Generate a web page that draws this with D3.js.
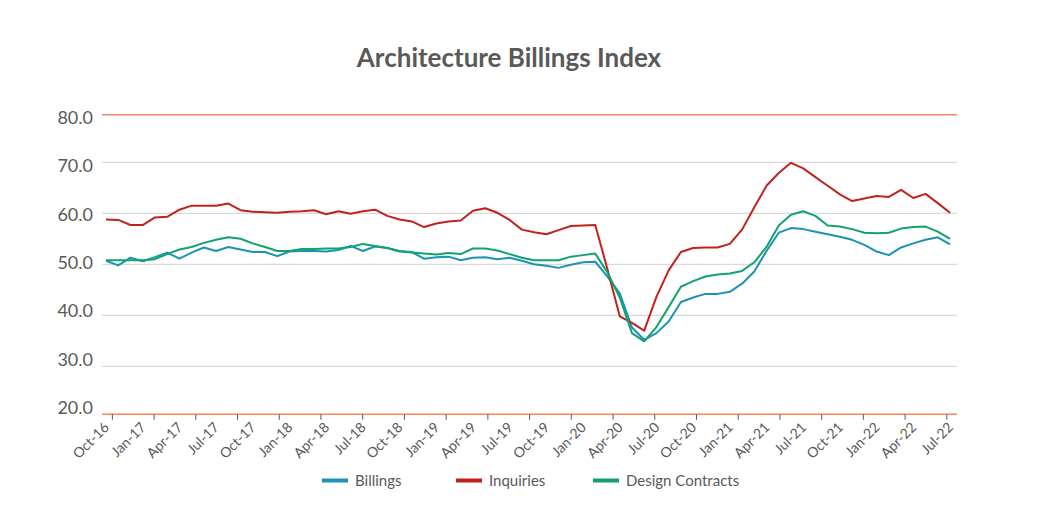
<!DOCTYPE html>
<html>
<head>
<meta charset="utf-8">
<script src="https://cdn.jsdelivr.net/npm/d3@7/dist/d3.min.js"></script>
<style>
  html, body { margin: 0; padding: 0; background: #ffffff; }
  svg { display: block; font-family: Lato, "Open Sans", sans-serif; }
</style>
</head>
<body>
<svg id="chart" width="1040" height="521"></svg>
<script>
// ---- data (monthly, Oct-16 .. Jul-22) ----
const billings = [50.7,49.8,51.3,50.6,51.4,52.3,51.1,52.3,53.3,52.6,53.4,52.9,52.4,52.4,51.6,52.5,52.6,52.6,
  52.5,52.8,53.6,52.6,53.5,53.2,52.6,52.4,51.1,51.4,51.5,50.8,51.3,51.4,51.0,51.3,50.7,
  50.0,49.7,49.3,49.9,50.4,50.5,47.6,44.3,37.6,35.2,36.5,38.8,42.6,43.5,44.2,44.2,44.6,46.2,48.6,52.6,
  56.2,57.1,56.9,56.4,55.9,55.4,54.8,53.8,52.5,51.8,53.3,54.1,54.8,55.3,53.9];
const inquiries = [58.8,58.7,57.7,57.7,59.2,59.3,60.7,61.5,61.5,61.5,
  61.9,60.6,60.3,60.2,60.1,60.3,60.4,60.6,59.8,60.4,
  59.9,60.4,60.7,59.5,58.8,58.4,57.3,58.0,58.4,58.6,
  60.5,61.0,60.1,58.7,56.8,56.3,55.9,56.7,57.5,57.6,
  57.7,49.0,39.8,38.5,37.0,43.6,48.8,52.4,53.2,53.3,
  53.3,54.0,56.8,61.2,65.4,67.9,69.9,68.8,67.1,65.4,
  63.7,62.4,62.9,63.4,63.2,64.6,63.0,63.8,62.0,60.1];
const designContracts = [50.8,50.8,50.8,50.8,51.0,52.0,52.9,53.4,54.2,54.8,
  55.3,55.0,54.1,53.4,52.6,52.6,53.0,53.0,53.1,53.1,
  53.4,54.0,53.6,53.2,52.5,52.3,52.1,51.9,52.2,52.0,
  53.1,53.1,52.7,52.0,51.3,50.8,50.8,50.8,51.5,51.8,
  52.1,48.4,43.5,36.5,34.9,37.7,41.6,45.6,46.7,47.6,
  48.0,48.2,48.7,50.4,53.4,57.6,59.7,60.4,59.5,57.6,
  57.4,56.9,56.2,56.1,56.2,57.0,57.3,57.4,56.4,55.0];
const monthNames = ["Jan","Feb","Mar","Apr","May","Jun","Jul","Aug","Sep","Oct","Nov","Dec"];
const yTicks = [20, 30, 40, 50, 60, 70, 80];
const seriesNames = ["Billings", "Inquiries", "Design Contracts"];
const seriesColors = ["#1b93b6", "#c1221b", "#11a36c"];

const series = [billings, inquiries, designContracts];
const nMonths = billings.length;
const monthLabel = i => {
  const m = (9 + i) % 12;
  const yr = 16 + Math.floor((9 + i) / 12);
  return monthNames[m] + "-" + String(yr).padStart(2, "0");
};
const labelMonths = d3.range(0, nMonths, 3);

const svg = d3.select("#chart");
const textColor = "#595959";

// scales
const x = d3.scaleLinear().domain([0, nMonths - 1]).range([106, 950]);
const y = d3.scaleLinear().domain([20, 80]).range([417.3, 111.3]);
const yLab = d3.scaleLinear().domain([20, 80]).range([407.7, 117.7]);
const plotL = 102, plotR = 957;

// title
svg.append("text")
  .attr("x", 509).attr("y", 67)
  .attr("text-anchor", "middle")
  .attr("font-size", 26).attr("font-weight", 700)
  .attr("fill", textColor)
  .text("Architecture Billings Index");

// grid lines
svg.append("g").selectAll("line")
  .data(yTicks.filter(d => d > 20 && d < 80))
  .join("line")
  .attr("x1", plotL).attr("x2", plotR)
  .attr("y1", d => y(d)).attr("y2", d => y(d))
  .attr("stroke", "#d9d9d9").attr("stroke-width", 1.2);

// orange borders (top / bottom of plot)
[79.3, 20.6].forEach(v => {
  svg.append("line")
    .attr("x1", plotL).attr("x2", plotR)
    .attr("y1", y(v)).attr("y2", y(v))
    .attr("stroke", "#f7845a").attr("stroke-width", 1.5);
});

// y labels
svg.append("g").selectAll("text")
  .data(yTicks)
  .join("text")
  .attr("x", 93).attr("y", d => yLab(d))
  .attr("dy", "0.35em")
  .attr("text-anchor", "end")
  .attr("font-size", 18)
  .attr("fill", textColor)
  .text(d => d3.format(".1f")(d));

// x ticks
const tickMonths = d3.range(21).map(i => 0.52 + i * (68.74 - 0.52) / 20);
svg.append("g").selectAll("line")
  .data(tickMonths)
  .join("line")
  .attr("x1", d => x(d)).attr("x2", d => x(d))
  .attr("y1", y(20.6)).attr("y2", y(20.6) + 5.5)
  .attr("stroke", "#595959").attr("stroke-width", 1);

// x labels
svg.append("g").selectAll("text")
  .data(labelMonths)
  .join("text")
  .attr("transform", d => `translate(${x(d) + 4},${y(20.6) + 14}) rotate(-45)`)
  .attr("text-anchor", "end")
  .attr("font-size", 14)
  .attr("fill", textColor)
  .text(d => monthLabel(d));

// lines
const line = d3.line().x((d, i) => x(i)).y(d => y(d));
svg.append("g").selectAll("path")
  .data(series)
  .join("path")
  .attr("d", d => line(d))
  .attr("fill", "none")
  .attr("stroke", (d, i) => seriesColors[i])
  .attr("stroke-width", 2)
  .attr("stroke-linejoin", "round");

// legend
const legendX = [322, 456, 593];
const lg = svg.append("g").selectAll("g")
  .data(seriesNames)
  .join("g")
  .attr("transform", (d, i) => `translate(${legendX[i]},480.5)`);
lg.append("rect")
  .attr("x", 0).attr("y", -2).attr("width", 26).attr("height", 4)
  .attr("fill", (d, i) => seriesColors[i]);
lg.append("text")
  .attr("x", 33).attr("y", 0).attr("dy", "0.35em")
  .attr("font-size", 15)
  .attr("fill", textColor)
  .text(d => d);
</script>
</body>
</html>
